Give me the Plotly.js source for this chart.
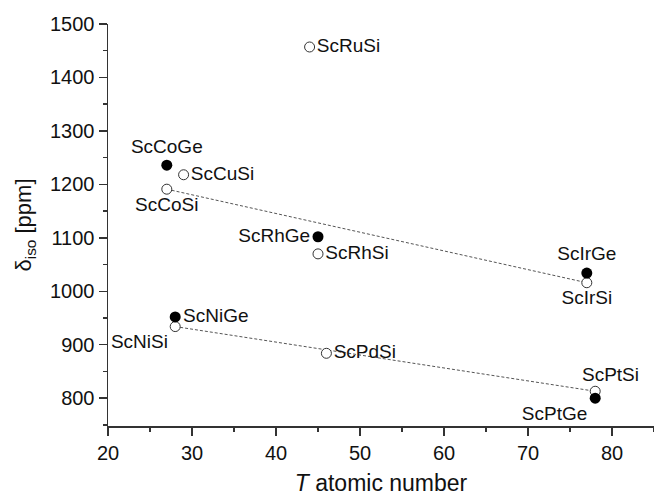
<!DOCTYPE html>
<html>
<head>
<meta charset="utf-8">
<script src="https://cdn.plot.ly/plotly-3.0.1.min.js"></script>
<style>html,body{margin:0;padding:0;background:#fff;}#plot{width:654px;height:496px;}</style>
</head>
<body>
<div id="plot"></div>
<script>
// Data (atomic number of T, isotropic shift in ppm)
const geNames = ["ScCoGe", "ScRhGe", "ScIrGe", "ScNiGe", "ScPtGe"];
const geX = [27, 45, 77, 28, 78];
const geY = [1236, 1102, 1034, 952, 800];

const siNames = ["ScRuSi", "ScCuSi", "ScCoSi", "ScRhSi", "ScIrSi", "ScNiSi", "ScPdSi", "ScPtSi"];
const siX = [44, 29, 27, 45, 77, 28, 46, 78];
const siY = [1457, 1218, 1191, 1070, 1016, 934, 884, 813];

// Dashed guide lines
const trend1X = [27, 77];
const trend1Y = [1191, 1016];
const trend2X = [28, 78];
const trend2Y = [934, 813];

const xTicks = [20, 30, 40, 50, 60, 70, 80];
const yTicks = [800, 900, 1000, 1100, 1200, 1300, 1400, 1500];

// Label placement (style only)
const geLabelPos = ["top center", "middle left", "top center", "middle right", "bottom left"];
const siLabelPos = ["middle right", "middle right", "bottom center", "middle right", "bottom center", "bottom left", "middle right", "custom"];

const font = "Liberation Sans, Arial, sans-serif";
const labelFont = {family: font, size: 19, color: "#111"};

const siText = siNames.map((n, i) => siLabelPos[i] === "custom" ? "" : n);
const siTextPos = siLabelPos.map(p => p === "custom" ? "top center" : p);

const annotations = [];
siNames.forEach((n, i) => {
  if (siLabelPos[i] === "custom") {
    annotations.push({x: siX[i], y: siY[i], text: n, showarrow: false, xanchor: "center", yanchor: "bottom",
      xshift: 15, yshift: 4, font: labelFont});
  }
});

const traces = [
  {x: trend1X, y: trend1Y, mode: "lines", line: {color: "#555", width: 1, dash: "3px,2px"}, hoverinfo: "skip"},
  {x: trend2X, y: trend2Y, mode: "lines", line: {color: "#555", width: 1, dash: "3px,2px"}, hoverinfo: "skip"},
  {x: siX, y: siY, text: siText, mode: "markers+text", textposition: siTextPos, textfont: labelFont,
   marker: {symbol: "circle", size: 10, color: "#fff", line: {color: "#333", width: 1}}},
  {x: geX, y: geY, text: geNames, mode: "markers+text", textposition: geLabelPos, textfont: labelFont,
   marker: {symbol: "circle", size: 11, color: "#000", line: {color: "#000", width: 0}}}
];

const layout = {
  width: 654, height: 496,
  margin: {l: 108, r: 0, t: 24, b: 70},
  paper_bgcolor: "#fff", plot_bgcolor: "#fff",
  showlegend: false,
  font: {family: font, color: "#111"},
  annotations: annotations,
  xaxis: {
    range: [20, 85], tickvals: xTicks, showgrid: false, zeroline: false,
    showline: true, linecolor: "#333", linewidth: 1.5,
    ticks: "outside", ticklen: 8, tickwidth: 1.5, tickcolor: "#333",
    tickfont: {family: font, size: 20, color: "#111"},
    minor: {dtick: 5, ticks: "outside", ticklen: 4, tickwidth: 1.5, tickcolor: "#333", showgrid: false},
    title: {text: "<i>T</i> atomic number", font: {family: font, size: 23, color: "#111"}, standoff: 13}
  },
  yaxis: {
    range: [748, 1500], tickvals: yTicks, showgrid: false, zeroline: false,
    showline: true, linecolor: "#333", linewidth: 1.5,
    ticks: "outside", ticklen: 8, tickwidth: 1.5, tickcolor: "#333",
    tickfont: {family: font, size: 20, color: "#111"},
    minor: {dtick: 50, ticks: "outside", ticklen: 4, tickwidth: 1.5, tickcolor: "#333", showgrid: false},
    title: {text: "δ<sub>iso</sub> [ppm]", font: {family: font, size: 22, color: "#111"}, standoff: 12}
  }
};

Plotly.newPlot("plot", traces, layout, {displayModeBar: false, staticPlot: true});
</script>
</body>
</html>
